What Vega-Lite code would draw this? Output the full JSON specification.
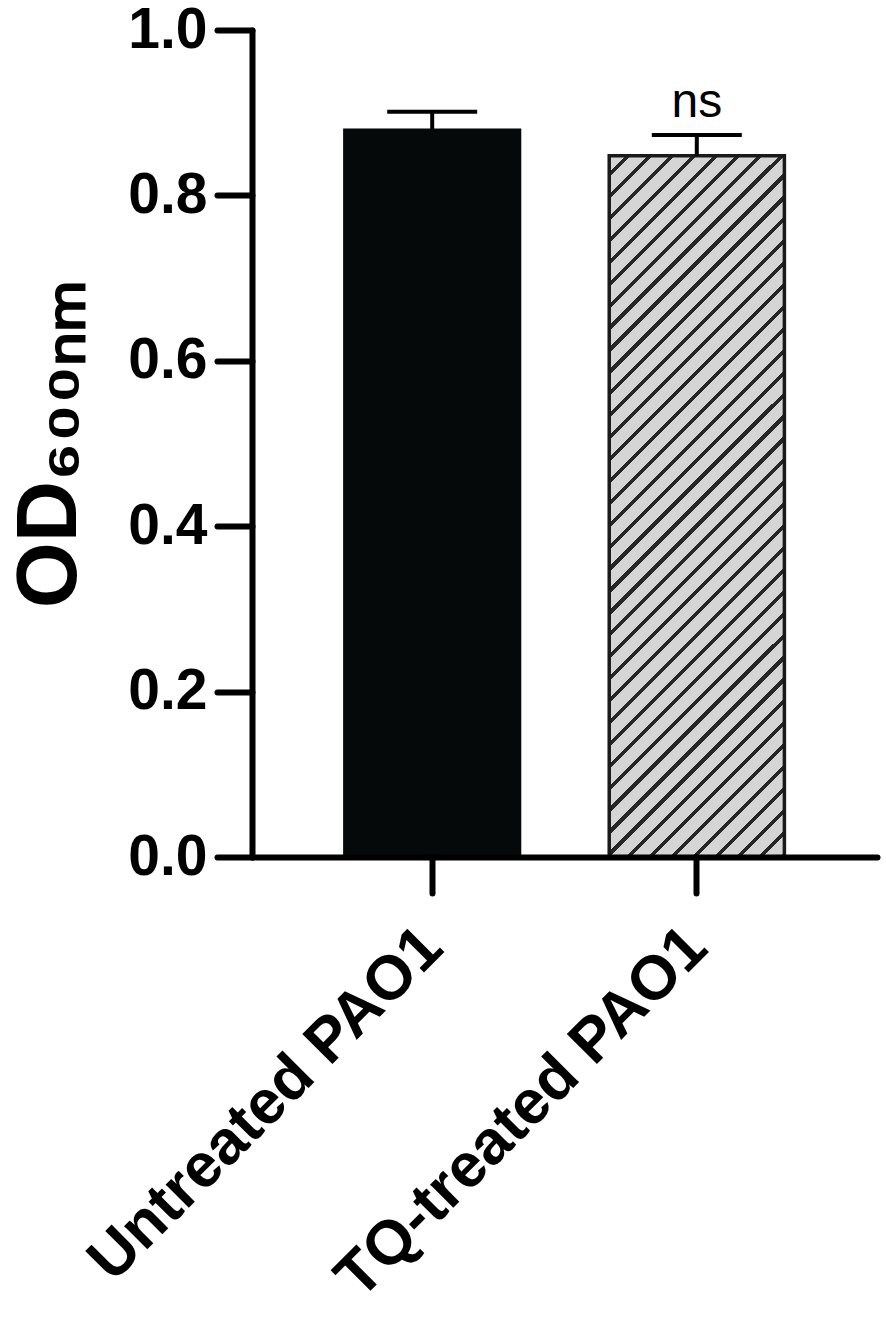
{
  "$schema": "https://vega.github.io/schema/vega-lite/v6.json",
  "width": 625,
  "height": 827,
  "autosize": {"type": "none"},
  "padding": {"left": 252, "top": 30, "right": 9, "bottom": 469},
  "background": "white",
  "config": {"view": {"stroke": null}, "font": "Liberation Sans"},
  "data": {"values": [
    {"group": "Untreated PAO1", "od": 0.879, "sd_hi": 0.901, "sig": ""},
    {"group": "TQ-treated PAO1", "od": 0.848, "sd_hi": 0.873, "sig": "ns"}
  ]},
  "encoding": {
    "x": {
      "field": "group", "type": "nominal", "sort": null,
      "scale": {"paddingInner": 0.338, "paddingOuter": 0.35},
      "axis": {
        "title": null, "labelAngle": -45, "labelAlign": "right", "labelBaseline": "middle",
        "labelFont": "Liberation Sans", "labelFontSize": 62, "labelFontWeight": "bold", "labelColor": "#000",
        "labelPadding": 44, "labelLimit": 2000, "tickSize": 36, "tickWidth": 6, "tickColor": "#000", "tickCap": "round",
        "domainWidth": 6, "domainColor": "#000", "domainCap": "round", "grid": false, "zindex": 1
      }
    }
  },
  "layer": [
    {
      "transform": [{"filter": "datum.group === 'Untreated PAO1'"}],
      "mark": {"type": "bar", "fill": "#050909", "stroke": "#050909", "strokeWidth": 3},
      "encoding": {
        "y": {
          "field": "od", "type": "quantitative",
          "scale": {"domain": [0, 1], "nice": false, "zero": true},
          "axis": {
            "values": [0, 0.2, 0.4, 0.6, 0.8, 1], "format": ".1f",
            "title": "OD₆₀₀ₙₘ", "titleFont": "Liberation Sans", "titleFontSize": 85, "titleFontWeight": "bold", "titleColor": "#000",
            "titlePadding": 34,
            "labelFont": "Liberation Sans", "labelFontSize": 57, "labelFontWeight": "bold", "labelColor": "#000",
            "labelPadding": 10, "tickSize": 35, "tickWidth": 6, "tickColor": "#000", "tickCap": "round",
            "domainWidth": 6, "domainColor": "#000", "domainCap": "round", "grid": false, "zindex": 1
          }
        }
      }
    },
    {
      "transform": [{"filter": "datum.group === 'TQ-treated PAO1'"}],
      "mark": {
        "type": "bar", "stroke": "#1a1a1a", "strokeWidth": 3.5,
        "fill": {
          "gradient": "linear", "x1": 0, "y1": 0, "x2": 0.2937, "y2": 1.1763,
          "stops": [
            {"offset": 0, "color": "#d5d5d5"},
            {"offset": 0.019, "color": "#d5d5d5"}, {"offset": 0.019, "color": "#262626"}, {"offset": 0.025, "color": "#262626"}, {"offset": 0.025, "color": "#d5d5d5"},
            {"offset": 0.044, "color": "#d5d5d5"}, {"offset": 0.044, "color": "#262626"}, {"offset": 0.05, "color": "#262626"}, {"offset": 0.05, "color": "#d5d5d5"},
            {"offset": 0.069, "color": "#d5d5d5"}, {"offset": 0.069, "color": "#262626"}, {"offset": 0.075, "color": "#262626"}, {"offset": 0.075, "color": "#d5d5d5"},
            {"offset": 0.094, "color": "#d5d5d5"}, {"offset": 0.094, "color": "#262626"}, {"offset": 0.1, "color": "#262626"}, {"offset": 0.1, "color": "#d5d5d5"},
            {"offset": 0.119, "color": "#d5d5d5"}, {"offset": 0.119, "color": "#262626"}, {"offset": 0.125, "color": "#262626"}, {"offset": 0.125, "color": "#d5d5d5"},
            {"offset": 0.144, "color": "#d5d5d5"}, {"offset": 0.144, "color": "#262626"}, {"offset": 0.15, "color": "#262626"}, {"offset": 0.15, "color": "#d5d5d5"},
            {"offset": 0.169, "color": "#d5d5d5"}, {"offset": 0.169, "color": "#262626"}, {"offset": 0.175, "color": "#262626"}, {"offset": 0.175, "color": "#d5d5d5"},
            {"offset": 0.194, "color": "#d5d5d5"}, {"offset": 0.194, "color": "#262626"}, {"offset": 0.2, "color": "#262626"}, {"offset": 0.2, "color": "#d5d5d5"},
            {"offset": 0.219, "color": "#d5d5d5"}, {"offset": 0.219, "color": "#262626"}, {"offset": 0.225, "color": "#262626"}, {"offset": 0.225, "color": "#d5d5d5"},
            {"offset": 0.244, "color": "#d5d5d5"}, {"offset": 0.244, "color": "#262626"}, {"offset": 0.25, "color": "#262626"}, {"offset": 0.25, "color": "#d5d5d5"},
            {"offset": 0.269, "color": "#d5d5d5"}, {"offset": 0.269, "color": "#262626"}, {"offset": 0.275, "color": "#262626"}, {"offset": 0.275, "color": "#d5d5d5"},
            {"offset": 0.294, "color": "#d5d5d5"}, {"offset": 0.294, "color": "#262626"}, {"offset": 0.3, "color": "#262626"}, {"offset": 0.3, "color": "#d5d5d5"},
            {"offset": 0.319, "color": "#d5d5d5"}, {"offset": 0.319, "color": "#262626"}, {"offset": 0.325, "color": "#262626"}, {"offset": 0.325, "color": "#d5d5d5"},
            {"offset": 0.344, "color": "#d5d5d5"}, {"offset": 0.344, "color": "#262626"}, {"offset": 0.35, "color": "#262626"}, {"offset": 0.35, "color": "#d5d5d5"},
            {"offset": 0.369, "color": "#d5d5d5"}, {"offset": 0.369, "color": "#262626"}, {"offset": 0.375, "color": "#262626"}, {"offset": 0.375, "color": "#d5d5d5"},
            {"offset": 0.394, "color": "#d5d5d5"}, {"offset": 0.394, "color": "#262626"}, {"offset": 0.4, "color": "#262626"}, {"offset": 0.4, "color": "#d5d5d5"},
            {"offset": 0.419, "color": "#d5d5d5"}, {"offset": 0.419, "color": "#262626"}, {"offset": 0.425, "color": "#262626"}, {"offset": 0.425, "color": "#d5d5d5"},
            {"offset": 0.444, "color": "#d5d5d5"}, {"offset": 0.444, "color": "#262626"}, {"offset": 0.45, "color": "#262626"}, {"offset": 0.45, "color": "#d5d5d5"},
            {"offset": 0.469, "color": "#d5d5d5"}, {"offset": 0.469, "color": "#262626"}, {"offset": 0.475, "color": "#262626"}, {"offset": 0.475, "color": "#d5d5d5"},
            {"offset": 0.494, "color": "#d5d5d5"}, {"offset": 0.494, "color": "#262626"}, {"offset": 0.5, "color": "#262626"}, {"offset": 0.5, "color": "#d5d5d5"},
            {"offset": 0.519, "color": "#d5d5d5"}, {"offset": 0.519, "color": "#262626"}, {"offset": 0.525, "color": "#262626"}, {"offset": 0.525, "color": "#d5d5d5"},
            {"offset": 0.544, "color": "#d5d5d5"}, {"offset": 0.544, "color": "#262626"}, {"offset": 0.55, "color": "#262626"}, {"offset": 0.55, "color": "#d5d5d5"},
            {"offset": 0.569, "color": "#d5d5d5"}, {"offset": 0.569, "color": "#262626"}, {"offset": 0.575, "color": "#262626"}, {"offset": 0.575, "color": "#d5d5d5"},
            {"offset": 0.594, "color": "#d5d5d5"}, {"offset": 0.594, "color": "#262626"}, {"offset": 0.6, "color": "#262626"}, {"offset": 0.6, "color": "#d5d5d5"},
            {"offset": 0.619, "color": "#d5d5d5"}, {"offset": 0.619, "color": "#262626"}, {"offset": 0.625, "color": "#262626"}, {"offset": 0.625, "color": "#d5d5d5"},
            {"offset": 0.644, "color": "#d5d5d5"}, {"offset": 0.644, "color": "#262626"}, {"offset": 0.65, "color": "#262626"}, {"offset": 0.65, "color": "#d5d5d5"},
            {"offset": 0.669, "color": "#d5d5d5"}, {"offset": 0.669, "color": "#262626"}, {"offset": 0.675, "color": "#262626"}, {"offset": 0.675, "color": "#d5d5d5"},
            {"offset": 0.694, "color": "#d5d5d5"}, {"offset": 0.694, "color": "#262626"}, {"offset": 0.7, "color": "#262626"}, {"offset": 0.7, "color": "#d5d5d5"},
            {"offset": 0.719, "color": "#d5d5d5"}, {"offset": 0.719, "color": "#262626"}, {"offset": 0.725, "color": "#262626"}, {"offset": 0.725, "color": "#d5d5d5"},
            {"offset": 0.744, "color": "#d5d5d5"}, {"offset": 0.744, "color": "#262626"}, {"offset": 0.75, "color": "#262626"}, {"offset": 0.75, "color": "#d5d5d5"},
            {"offset": 0.769, "color": "#d5d5d5"}, {"offset": 0.769, "color": "#262626"}, {"offset": 0.775, "color": "#262626"}, {"offset": 0.775, "color": "#d5d5d5"},
            {"offset": 0.794, "color": "#d5d5d5"}, {"offset": 0.794, "color": "#262626"}, {"offset": 0.8, "color": "#262626"}, {"offset": 0.8, "color": "#d5d5d5"},
            {"offset": 0.819, "color": "#d5d5d5"}, {"offset": 0.819, "color": "#262626"}, {"offset": 0.825, "color": "#262626"}, {"offset": 0.825, "color": "#d5d5d5"},
            {"offset": 0.844, "color": "#d5d5d5"}, {"offset": 0.844, "color": "#262626"}, {"offset": 0.85, "color": "#262626"}, {"offset": 0.85, "color": "#d5d5d5"},
            {"offset": 0.869, "color": "#d5d5d5"}, {"offset": 0.869, "color": "#262626"}, {"offset": 0.875, "color": "#262626"}, {"offset": 0.875, "color": "#d5d5d5"},
            {"offset": 0.894, "color": "#d5d5d5"}, {"offset": 0.894, "color": "#262626"}, {"offset": 0.9, "color": "#262626"}, {"offset": 0.9, "color": "#d5d5d5"},
            {"offset": 0.919, "color": "#d5d5d5"}, {"offset": 0.919, "color": "#262626"}, {"offset": 0.925, "color": "#262626"}, {"offset": 0.925, "color": "#d5d5d5"},
            {"offset": 0.944, "color": "#d5d5d5"}, {"offset": 0.944, "color": "#262626"}, {"offset": 0.95, "color": "#262626"}, {"offset": 0.95, "color": "#d5d5d5"},
            {"offset": 0.969, "color": "#d5d5d5"}, {"offset": 0.969, "color": "#262626"}, {"offset": 0.975, "color": "#262626"}, {"offset": 0.975, "color": "#d5d5d5"},
            {"offset": 0.994, "color": "#d5d5d5"}, {"offset": 0.994, "color": "#262626"}, {"offset": 1, "color": "#262626"}
          ]
        }
      },
      "encoding": {"y": {"field": "od", "type": "quantitative"}}
    },
    {
      "mark": {"type": "rule", "strokeWidth": 4, "color": "#000000"},
      "encoding": {"y": {"field": "od", "type": "quantitative"}, "y2": {"field": "sd_hi"}}
    },
    {
      "mark": {"type": "tick", "size": 90, "thickness": 4, "color": "#000000", "opacity": 1},
      "encoding": {"y": {"field": "sd_hi", "type": "quantitative"}}
    },
    {
      "mark": {"type": "text", "font": "Liberation Sans", "fontSize": 48, "dy": -18, "baseline": "alphabetic", "align": "center", "color": "#000"},
      "encoding": {"y": {"field": "sd_hi", "type": "quantitative"}, "text": {"field": "sig"}}
    }
  ]
}
